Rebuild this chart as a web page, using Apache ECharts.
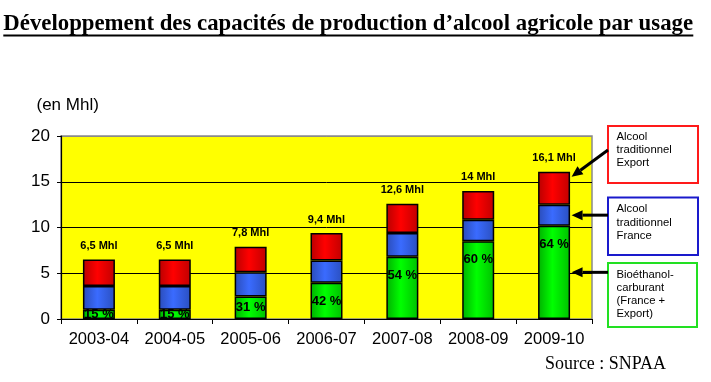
<!DOCTYPE html>
<html>
<head>
<meta charset="utf-8">
<script src="https://cdn.jsdelivr.net/npm/echarts@6/dist/echarts.min.js"></script>
<style>
html,body{margin:0;padding:0;background:#fff;}
#main{width:711px;height:382px;}
</style>
</head>
<body>
<div id="main"></div>
<script>
// ---- data ----
var titleText = 'Développement des capacités de production d\u2019alcool agricole par usage';
var unitText = '(en Mhl)';
var sourceText = 'Source : SNPAA';
var categories = ['2003-04', '2004-05', '2005-06', '2006-07', '2007-08', '2008-09', '2009-10'];
var bioethanol = [1.0, 1.0, 2.45, 3.95, 6.8, 8.5, 10.2];     // Bioéthanol-carburant
var tradFrance = [2.6, 2.6, 2.65, 2.45, 2.6, 2.35, 2.3];     // Alcool traditionnel France
var tradExport = [2.9, 2.9, 2.8, 3.0, 3.2, 3.15, 3.6];       // Alcool traditionnel Export
var totals = [6.5, 6.5, 7.8, 9.4, 12.6, 14, 16.1];           // labels (Mhl)
var bioShare = [15, 15, 31, 42, 54, 60, 64];                  // % bioéthanol
var yTicks = [0, 5, 10, 15, 20];
var legendNames = ['Alcool\ntraditionnel\nExport', 'Alcool\ntraditionnel\nFrance', 'Bioéthanol-\ncarburant\n(France +\nExport)'];

var chart = echarts.init(document.getElementById('main'), null, {renderer: 'canvas'});

function grad(dark, bright, dark2) {
  return new echarts.graphic.LinearGradient(0, 0, 1, 0, [
    {offset: 0, color: dark}, {offset: 0.45, color: bright}, {offset: 1, color: dark2}
  ]);
}
var colRed = grad('#b80000', '#ff0000', '#c00000');
var colBlue = grad('#2a4cb8', '#3a6bff', '#2a4fbf');
var colGreen = grad('#00b000', '#00ff00', '#00c000');

function fmtNum(v) { return String(v).replace('.', ','); }

var greenData = bioethanol.map(function (v, i) {
  return {
    value: v,
    label: v >= 6 ? {position: 'insideTop', distance: 12} : {position: 'inside'}
  };
});

var base = {
  animation: false,
  grid: {
    left: 61, right: 119, top: 136, bottom: 63,
    show: true, backgroundColor: '#ffff00', borderColor: '#8a8a8a', borderWidth: 1.5
  },
  xAxis: {
    type: 'category',
    data: categories,
    axisLine: {lineStyle: {color: '#000', width: 1.2}},
    axisTick: {show: true, length: 5, lineStyle: {color: '#000'}},
    axisLabel: {interval: 0, hideOverlap: false, color: '#000', fontFamily: 'Liberation Sans, Arial, sans-serif', fontSize: 16.5, margin: 12}
  },
  yAxis: {
    type: 'value',
    min: yTicks[0], max: yTicks[yTicks.length - 1], interval: yTicks[1] - yTicks[0],
    axisLine: {show: true, lineStyle: {color: '#000', width: 1.2}},
    axisTick: {show: true, length: 4, lineStyle: {color: '#000'}},
    axisLabel: {color: '#000', fontFamily: 'Liberation Sans, Arial, sans-serif', fontSize: 17, margin: 11},
    splitLine: {show: true, lineStyle: {color: ['#000', '#000', '#000', '#000', '#8a8a8a'], width: 1}}
  },
  series: [
    {
      name: 'Bioéthanol-carburant (France + Export)', type: 'bar', stack: 's', barWidth: 32,
      data: greenData,
      itemStyle: {color: colGreen, borderColor: '#000', borderWidth: 1.5},
      label: {show: true, formatter: function (p) { return bioShare[p.dataIndex] + ' %'; },
        color: '#000', fontWeight: 'bold', fontSize: 13, fontFamily: 'Liberation Sans, Arial, sans-serif'}
    },
    {
      name: 'Alcool traditionnel France', type: 'bar', stack: 's', barWidth: 32,
      data: tradFrance,
      itemStyle: {color: colBlue, borderColor: '#000', borderWidth: 1.5}
    },
    {
      name: 'Alcool traditionnel Export', type: 'bar', stack: 's', barWidth: 32,
      data: tradExport,
      itemStyle: {color: colRed, borderColor: '#000', borderWidth: 1.5},
      label: {show: true, position: 'top', distance: 8,
        formatter: function (p) { return fmtNum(totals[p.dataIndex]) + ' Mhl'; },
        color: '#000', fontWeight: 'bold', fontSize: 11, fontFamily: 'Liberation Sans, Arial, sans-serif'}
    }
  ]
};
chart.setOption(base);

// ---- title fitted to reference width ----
var cv = document.createElement('canvas').getContext('2d');
cv.font = 'bold 20px "Liberation Serif"';
var w20 = cv.measureText(titleText).width;
var titleSize = 20 * 690 / w20;
var titleW = 690;
cv.font = '20px "Liberation Serif"';
var sw20 = cv.measureText(sourceText).width;
var sourceSize = 20 * 121 / sw20;

// ---- arrows to the last bar ----
var last = categories.length - 1;
var stackTop = bioethanol[last] + tradFrance[last] + tradExport[last];
var pTop = chart.convertToPixel({gridIndex: 0}, [last, stackTop]);
var pBlue = chart.convertToPixel({gridIndex: 0}, [last, bioethanol[last] + tradFrance[last] / 2]);
var pGreen = chart.convertToPixel({gridIndex: 0}, [last, bioethanol[last] / 2]);
var tipX = pTop[0] + 16 + 1.5;
var tailX = 608;

function arrow(x1, y1, x2, y2) {
  var dx = x2 - x1, dy = y2 - y1, L = Math.sqrt(dx * dx + dy * dy);
  var ux = dx / L, uy = dy / L, hl = 11, hw = 5;
  var bx = x2 - ux * hl, by = y2 - uy * hl;
  return [
    {type: 'line', shape: {x1: x1, y1: y1, x2: bx, y2: by}, style: {stroke: '#000', lineWidth: 3}, silent: true},
    {type: 'polygon', shape: {points: [[x2, y2], [bx - uy * hw, by + ux * hw], [bx + uy * hw, by - ux * hw]]},
      style: {fill: '#000'}, silent: true}
  ];
}

var boxes = [
  {x: 608, y: 126, w: 90, h: 57, color: '#ff1a1a', textY: 130, lh: 13.3},
  {x: 608, y: 197.5, w: 90, h: 57.5, color: '#1a1acc', textY: 202.5, lh: 13.3},
  {x: 608, y: 263, w: 89, h: 64, color: '#22e022', textY: 268.5, lh: 12.9}
];

var g = [];
g.push({type: 'text', style: {text: titleText, x: 3.3, y: 35.5, font: 'bold ' + titleSize.toFixed(2) + 'px "Liberation Serif", serif',
  fill: '#000', align: 'left', verticalAlign: 'bottom'}});
g.push({type: 'line', shape: {x1: 3.3, y1: 35.6, x2: 3.3 + titleW, y2: 35.6}, style: {stroke: '#000', lineWidth: 2}});
g.push({type: 'text', style: {text: unitText, x: 36.5, y: 105, font: '17px "Liberation Sans", Arial, sans-serif',
  fill: '#000', align: 'left', verticalAlign: 'middle'}});
g.push({type: 'text', style: {text: sourceText, x: 545, y: 364.5, font: sourceSize.toFixed(2) + 'px "Liberation Serif", serif',
  fill: '#000', align: 'left', verticalAlign: 'middle'}});
boxes.forEach(function (b, i) {
  g.push({type: 'rect', shape: {x: b.x, y: b.y, width: b.w, height: b.h},
    style: {fill: '#fff', stroke: b.color, lineWidth: 2}});
  g.push({type: 'text', style: {text: legendNames[i], x: b.x + 8.5, y: b.textY,
    font: '11.3px "Liberation Sans", Arial, sans-serif', lineHeight: b.lh, fill: '#000', align: 'left', verticalAlign: 'top'}});
});
g = g.concat(arrow(tailX, 150, tipX, pTop[1] + 5));
g = g.concat(arrow(tailX, pBlue[1], tipX, pBlue[1]));
g = g.concat(arrow(tailX, pGreen[1], tipX, pGreen[1]));

chart.setOption({graphic: g});
</script>
</body>
</html>
